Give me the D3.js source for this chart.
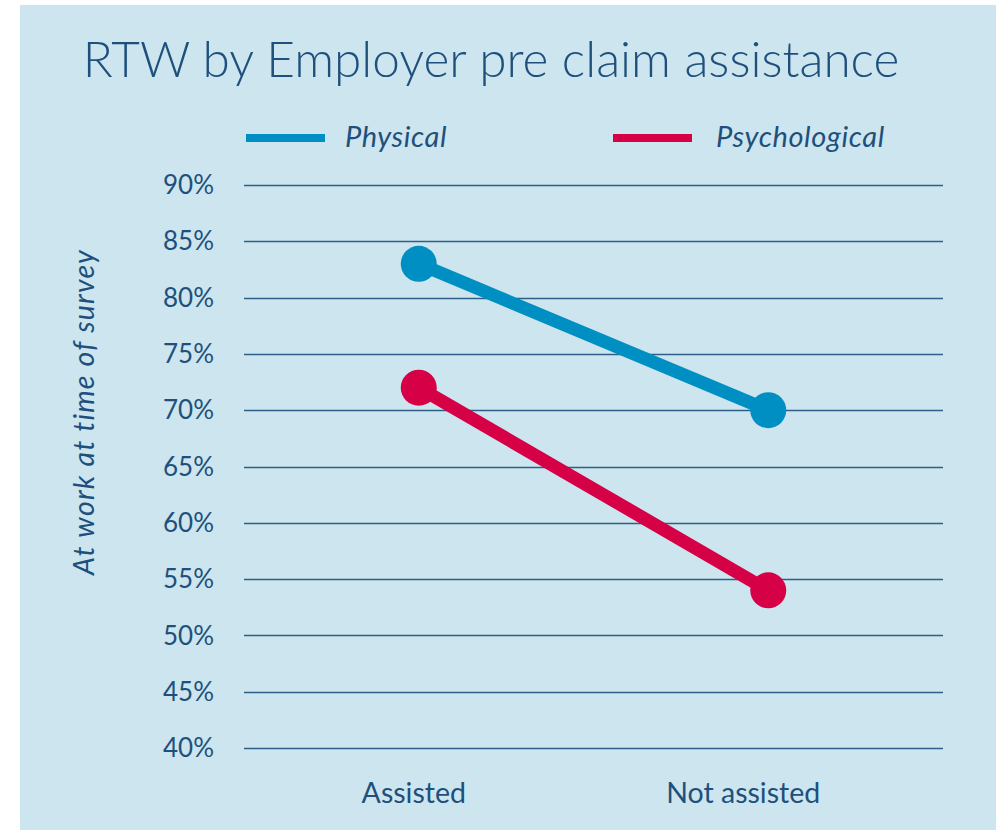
<!DOCTYPE html>
<html>
<head>
<meta charset="utf-8">
<script src="https://cdn.jsdelivr.net/npm/d3@7"></script>
<style>
  body { margin: 0; background: #fff; }
  svg { display: block; font-family: Lato, "Open Sans", sans-serif; }
</style>
</head>
<body>
<svg></svg>
<script>
// data
var categories = ["Assisted", "Not assisted"];
var seriesNames = ["Physical", "Psychological"];
var physical = [83, 70];
var psychological = [72, 54];
var yTicks = [40, 45, 50, 55, 60, 65, 70, 75, 80, 85, 90];

var width = 1003, height = 830;
var textColor = "#1f507c";
var colors = ["#008fc2", "#d50045"];

var svg = d3.select("svg")
    .attr("width", width)
    .attr("height", height);

// panel
svg.append("rect")
    .attr("x", 20).attr("y", 5)
    .attr("width", 976).attr("height", 830)
    .attr("fill", "#cce5ef");

var x = d3.scaleBand()
    .domain(categories)
    .range([244, 943]);

var y = d3.scaleLinear()
    .domain([40, 90])
    .range([748, 185]);

// gridlines
svg.append("g")
    .selectAll("line")
    .data(yTicks)
    .enter().append("line")
    .attr("x1", 244).attr("x2", 943)
    .attr("y1", d => Math.round(y(d)) + 0.5)
    .attr("y2", d => Math.round(y(d)) + 0.5)
    .attr("stroke", "#2f5f88")
    .attr("stroke-width", 1.3);

// y tick labels
svg.append("g")
    .selectAll("text")
    .data(yTicks)
    .enter().append("text")
    .attr("x", 214)
    .attr("y", d => y(d))
    .attr("dy", "0.35em")
    .attr("text-anchor", "end")
    .attr("fill", textColor)
    .style("font-size", "26px")
    .text(d => d + "%");

// category labels
svg.append("g")
    .selectAll("text")
    .data(categories)
    .enter().append("text")
    .attr("x", d => x(d) + x.bandwidth() / 2 - (d === "Assisted" ? 5 : 25))
    .attr("y", 793)
    .attr("dy", "0.35em")
    .attr("text-anchor", "middle")
    .attr("fill", textColor)
    .style("font-size", "28.5px")
    .text(d => d);

// y axis title
svg.append("text")
    .attr("transform", "translate(94,412) rotate(-90)")
    .attr("text-anchor", "middle")
    .attr("fill", textColor)
    .style("font-size", "28.5px")
    .style("font-style", "italic")
    .style("letter-spacing", "1.2px")
    .text("At work at time of survey");

// title
svg.append("text")
    .attr("x", 491)
    .attr("y", 77)
    .attr("text-anchor", "middle")
    .attr("fill", textColor)
    .style("font-size", "49.5px")
    .style("font-weight", 300)
    .text("RTW by Employer pre claim assistance");

// series
var series = [physical, psychological];
var line = d3.line()
    .x((d, i) => x(categories[i]) + x.bandwidth() / 2)
    .y(d => y(d));

series.forEach((s, k) => {
    svg.append("path")
        .datum(s)
        .attr("fill", "none")
        .attr("stroke", colors[k])
        .attr("stroke-width", 13)
        .attr("d", line);
    svg.append("g")
        .selectAll("circle")
        .data(s)
        .enter().append("circle")
        .attr("cx", (d, i) => x(categories[i]) + x.bandwidth() / 2)
        .attr("cy", d => y(d))
        .attr("r", 18)
        .attr("fill", colors[k]);
});

// legend
var legendX = [246, 613];
seriesNames.forEach((name, k) => {
    svg.append("line")
        .attr("x1", legendX[k]).attr("x2", legendX[k] + 79)
        .attr("y1", 138).attr("y2", 138)
        .attr("stroke", colors[k])
        .attr("stroke-width", 8);
    svg.append("text")
        .attr("x", legendX[k] + (k === 0 ? 99 : 103))
        .attr("y", 137)
        .attr("dy", "0.35em")
        .attr("fill", textColor)
        .style("font-size", "29px")
        .style("font-style", "italic")
        .style("letter-spacing", "0.6px")
        .text(name);
});
</script>
</body>
</html>
